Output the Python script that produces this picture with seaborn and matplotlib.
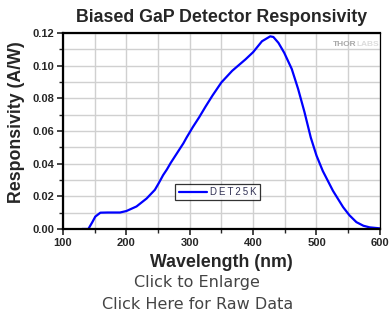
import numpy as np
import matplotlib
matplotlib.use("Agg")
import matplotlib.pyplot as plt
import seaborn as sns
from matplotlib.ticker import MultipleLocator

# DET25K responsivity
wavelength = [130, 140, 146, 151, 159, 170, 190, 200, 216, 232, 245, 251, 258,
              264, 270, 280, 290, 295, 305, 315, 325, 336, 350, 367, 388, 400,
              414, 427, 432, 440, 449, 461, 471, 481, 491, 500, 510, 526, 542,
              552, 563, 574, 584, 600]
responsivity = [0.0, 0.0, 0.0040, 0.0076, 0.0100, 0.0101, 0.0101, 0.0110,
                0.0138, 0.0187, 0.0240, 0.0280, 0.0330, 0.0365, 0.0405, 0.0465,
                0.0525, 0.0560, 0.0625, 0.0685, 0.0750, 0.0818, 0.0898, 0.0969,
                0.1039, 0.1083, 0.1150, 0.1180, 0.1176, 0.1140, 0.1080, 0.0980,
                0.0858, 0.0717, 0.0560, 0.0450, 0.0355, 0.0234, 0.0134, 0.0084,
                0.0042, 0.0020, 0.0010, 0.0004]
series_name = "DET25K"

sns.set_style("white")
plt.rcParams['font.family'] = ['Liberation Sans', 'DejaVu Sans']

fig = plt.figure(figsize=(3.9, 3.15), dpi=100)
ax = fig.add_axes([0.1615, 0.273, 0.8125, 0.622])

# legend text is letter-spaced in the original, thin spaces between letters
spaced_name = '\u2009'.join(series_name)
sns.lineplot(x=wavelength, y=responsivity, ax=ax, color='#0000ff',
             linewidth=1.6, label=spaced_name)

ax.set_xlim(100, 600)
ax.set_ylim(0, 0.12)
ax.xaxis.set_major_locator(MultipleLocator(100))
ax.xaxis.set_minor_locator(MultipleLocator(50))
ax.yaxis.set_major_locator(MultipleLocator(0.02))
ax.yaxis.set_minor_locator(MultipleLocator(0.01))
ax.yaxis.set_major_formatter(plt.FormatStrFormatter('%.2f'))
ax.grid(True, which='both', color='#d0d0d0', linewidth=1.0)
ax.set_axisbelow(True)

ax.spines['right'].set_linewidth(0.9)
for side in ['left', 'bottom', 'top']:
    ax.spines[side].set_linewidth(1.6)
for side in ax.spines:
    ax.spines[side].set_color('black')

ax.tick_params(which='major', direction='out', length=4, width=1.2,
               labelsize=8, bottom=True, left=True, pad=2.5)
ax.tick_params(which='minor', direction='out', length=3, width=1.0,
               bottom=True, left=True)
for lab in ax.get_xticklabels() + ax.get_yticklabels():
    lab.set_fontweight('bold')

ax.set_title('Biased GaP Detector Responsivity', fontsize=12.8,
             fontweight='bold', pad=8)
ax.set_xlabel('Wavelength (nm)', fontsize=12.8, fontweight='bold', labelpad=4)
ax.set_ylabel('Responsivity (A/W)', fontsize=12.8, fontweight='bold', labelpad=5)
ax.yaxis.label.set_y(0.543)

leg = ax.legend(loc='center', bbox_to_anchor=(0.489, 0.189), fontsize=7,
                frameon=True, fancybox=False, edgecolor='black',
                handlelength=2.9, borderpad=0.35, handletextpad=0.35,
                borderaxespad=0)
leg.get_frame().set_linewidth(0.9)
for t in leg.get_texts():
    t.set_color('#333355')

# faint logo, upper right
thor = ax.text(0.852, 0.944, 'THOR', transform=ax.transAxes, ha='left',
               va='center', fontsize=6, fontweight='bold', color='#a8a8a8')
ax.annotate('LABS', xy=(1.0, 0.5), xycoords=thor, ha='left', va='center',
            fontsize=6, fontweight='bold', color='#dcdcdc')

fig.text(0.505, 0.103, 'Click to Enlarge', ha='center', va='center',
         fontsize=11.5, color='#444444', family='DejaVu Sans')
fig.text(0.507, 0.033, 'Click Here for Raw Data', ha='center', va='center',
         fontsize=11.5, color='#444444', family='DejaVu Sans')

fig.savefig('out.png', dpi=100)
